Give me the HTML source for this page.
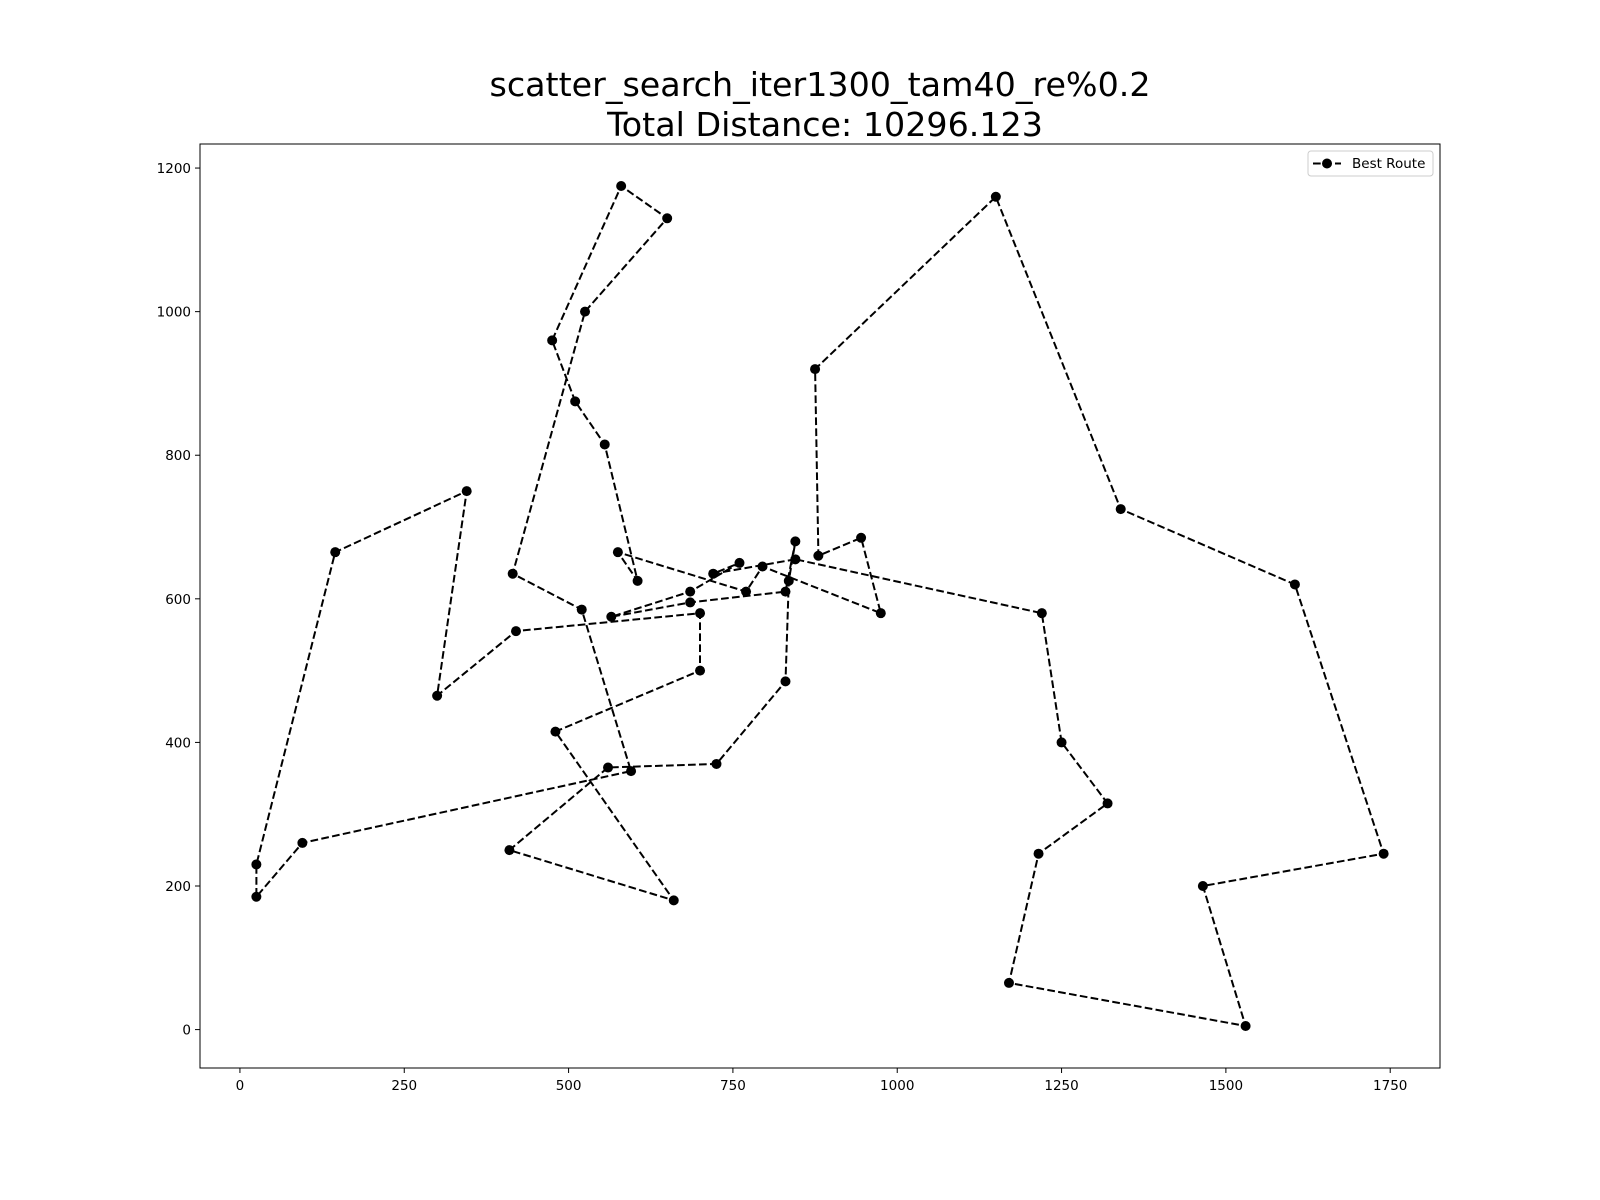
<!DOCTYPE html>
<html><head><meta charset="utf-8"><style>
html,body{margin:0;padding:0;background:#fff;}
svg{display:block;font-family:"DejaVu Sans","Liberation Sans",sans-serif;}
</style></head><body>
<svg id="chart" width="1600" height="1200" viewBox="0 0 1600 1200" xmlns="http://www.w3.org/2000/svg">
<rect width="1600" height="1200" fill="#fff"/>
<text x="820" y="96" font-size="33.3" text-anchor="middle">scatter_search_iter1300_tam40_re%0.2</text>
<text x="825" y="136" font-size="33.3" text-anchor="middle">Total Distance: 10296.123</text>
<g id="ticks"></g>
<g id="route"></g>
<rect x="200" y="144" width="1240" height="924" fill="none" stroke="#000" stroke-width="1"/>
<g>
<rect x="1308" y="151" width="125" height="25" rx="3" fill="#fff" stroke="#ccc" stroke-width="1"/>
<line x1="1313" y1="163.5" x2="1341" y2="163.5" stroke="#000" stroke-width="2" stroke-dasharray="7.7 3.3"/>
<circle cx="1327" cy="163.5" r="5" fill="#000"/>
<text x="1352" y="168" font-size="13.5">Best Route</text>
</g>
</svg>
<script>
// City coordinates (id -> [x, y])
const cityIds = [1,2,3,4,5,6,7,8,9,10,11,12,13,14,15,16,17,18,19,20,21,22,23,24,25,26,27,28,29,30,31,32,33,34,35,36,37,38,39,40,41,42,43,44,45,46,47,48,49,50,51,52];
const cityX = [565,25,345,945,845,880,25,525,580,650,1605,1220,1465,1530,845,725,145,415,510,560,300,520,480,835,975,1215,1320,1250,660,410,420,575,1150,700,685,685,770,795,720,760,475,95,875,700,555,830,1170,830,605,595,1340,1740];
const cityY = [575,185,750,685,655,660,230,1000,1175,1130,620,580,200,5,680,370,665,635,875,365,465,585,415,625,580,245,315,400,180,250,555,665,1160,580,595,610,610,645,635,650,960,260,920,500,815,485,65,610,625,360,725,245];
const routeOrder = [5,39,40,36,1,35,48,15,24,46,16,20,30,29,23,44,34,31,21,3,17,7,2,42,50,22,18,8,10,9,41,19,45,49,32,37,38,25,4,6,43,33,51,11,52,13,14,47,26,27,28,12];
const xTicks = [0,250,500,750,1000,1250,1500,1750];
const yTicks = [0,200,400,600,800,1000,1200];

const NS = "http://www.w3.org/2000/svg";
const X0 = 200, X1 = 1440, Y0 = 1068, Y1 = 144;
const xMin = -60.75, xMax = 1825.75, yMin = -53.5, yMax = 1233.5;
function sx(v){ return X0 + (v - xMin) / (xMax - xMin) * (X1 - X0); }
function sy(v){ return Y0 - (v - yMin) / (yMax - yMin) * (Y0 - Y1); }
function mk(tag, attrs){ const e = document.createElementNS(NS, tag); for (const k in attrs) e.setAttribute(k, attrs[k]); return e; }

const tg = document.getElementById('ticks');
xTicks.forEach(t => {
  const l = mk('line', {x1: sx(t), x2: sx(t), y1: Y0, y2: Y0 + 5, stroke: '#000', 'stroke-width': 1});
  
  
  tg.appendChild(l);
  const tx = mk('text', {x: sx(t), y: Y0 + 22, 'font-size': 13.5, 'text-anchor': 'middle'});
  tx.textContent = t;
  
  
  tg.appendChild(tx);
});
yTicks.forEach(t => {
  const l = mk('line', {x1: X0 - 5, x2: X0, y1: sy(t), y2: sy(t), stroke: '#000', 'stroke-width': 1});
  
  
  tg.appendChild(l);
  const tx = mk('text', {x: X0 - 9, y: sy(t) + 5, 'font-size': 13.5, 'text-anchor': 'end'});
  tx.textContent = t;
  
  
  tg.appendChild(tx);
});

const rg = document.getElementById('route');
const pts = routeOrder.concat([routeOrder[0]]).map(id => {
  const i = cityIds.indexOf(id);
  return sx(cityX[i]).toFixed(1) + ',' + sy(cityY[i]).toFixed(1);
});
const pl = mk('polyline', {points: pts.join(' '), fill: 'none', stroke: '#000', 'stroke-width': 2, 'stroke-dasharray': '7.7 3.3'});


rg.appendChild(pl);
routeOrder.forEach(id => {
  const i = cityIds.indexOf(id);
  const c = mk('circle', {cx: sx(cityX[i]), cy: sy(cityY[i]), r: 5, fill: '#000'});
  
  
  rg.appendChild(c);
});
</script>
</body></html>
